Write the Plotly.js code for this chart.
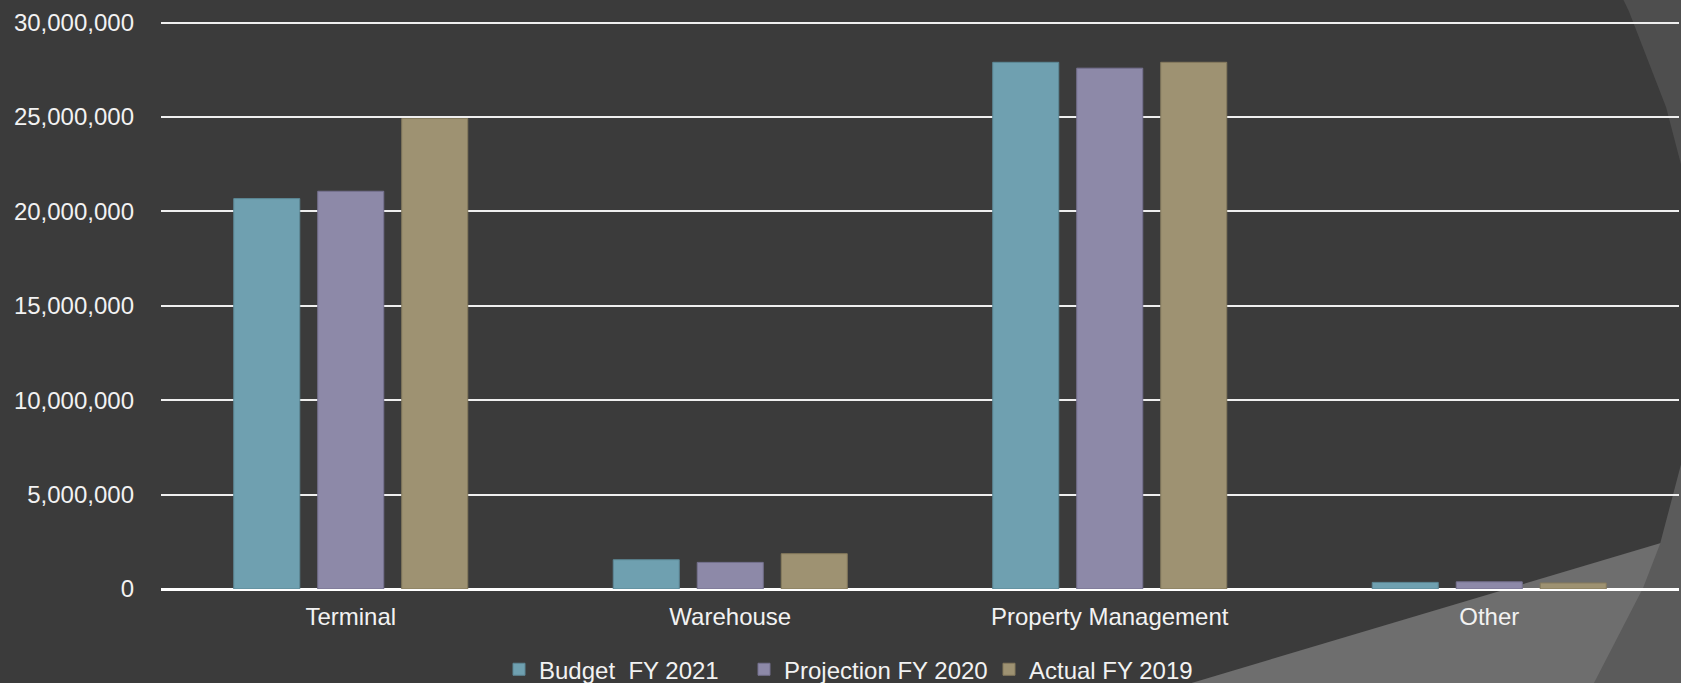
<!DOCTYPE html>
<html>
<head>
<meta charset="utf-8">
<script src="https://cdn.plot.ly/plotly-3.0.1.min.js"></script>
<style>
  html, body { margin: 0; padding: 0; background: #3b3b3b; }
  #chart { width: 1681px; height: 683px; }
</style>
</head>
<body>
<div id="chart"></div>
<script>
// ---- data ----
const categories = ['Terminal', 'Warehouse', 'Property Management', 'Other'];
const budgetFY2021 = [20680000, 1550000, 27900000, 350000];
const projectionFY2020 = [21070000, 1410000, 27590000, 380000];
const actualFY2019 = [24920000, 1870000, 27900000, 320000];
const seriesNames = ['Budget  FY 2021', 'Projection FY 2020', 'Actual FY 2019'];
const yTickVals = [0, 5000000, 10000000, 15000000, 20000000, 25000000, 30000000];

const colors = ['#6fa0b0', '#8d89a8', '#9e9272'];
const lineColors = ['#5c8795', '#75718f', '#857a5d'];

const seriesData = [budgetFY2021, projectionFY2020, actualFY2019];
const traces = seriesData.map((vals, i) => ({
  type: 'bar',
  name: seriesNames[i],
  x: categories,
  y: vals,
  marker: { color: colors[i], line: { color: lineColors[i], width: 1 } },
  hoverinfo: 'x+y+name'
}));

const textColor = '#f2f2f2';
const layout = {
  width: 1681,
  height: 683,
  margin: { l: 161, r: 2, t: 17, b: 94, pad: 0, autoexpand: false },
  paper_bgcolor: '#3b3b3b',
  plot_bgcolor: 'rgba(0,0,0,0)',
  font: { family: 'Liberation Sans, Arial, sans-serif', size: 24, color: textColor },
  barmode: 'group',
  bargap: 0.336,
  bargroupgap: 0.214,
  showlegend: true,
  legend: {
    orientation: 'h',
    x: (499 - 161) / 1518,
    xanchor: 'left',
    y: -0.141,
    yanchor: 'middle',
    bgcolor: 'rgba(0,0,0,0)',
    font: { family: 'Liberation Sans, Arial, sans-serif', size: 24, color: textColor },
    itemwidth: 30,
    entrywidth: 200,
    entrywidthmode: 'pixels',
    traceorder: 'normal'
  },
  xaxis: {
    type: 'category',
    showgrid: false,
    showline: false,
    zeroline: false,
    ticks: '',
    ticklabelstandoff: 11,
    tickfont: { size: 24, color: textColor }
  },
  yaxis: {
    range: [0, 30300000],
    tickvals: yTickVals,
    tickformat: ',d',
    showgrid: true,
    gridcolor: '#efefef',
    gridwidth: 2,
    zeroline: true,
    zerolinecolor: '#ffffff',
    zerolinewidth: 3,
    showline: false,
    ticks: '',
    ticklabelstandoff: 26,
    tickfont: { size: 24, color: textColor }
  },
  shapes: [
    { type: 'path', xref: 'paper', yref: 'paper', layer: 'below', line: { width: 0 },
      fillcolor: '#4e4e4e',
      path: 'M 0.9570,1.0686 L 0.9596,1.0509 L 0.9670,1.0101 L 0.9915,0.8423 L 1.0013,0.7424 L 1.0072,0.6763 L 1.0072,1.0686 Z' },
    { type: 'path', xref: 'paper', yref: 'paper', layer: 'below', line: { width: 0 },
      fillcolor: '#6e6e6e',
      path: 'M 0.6364,-0.198 L 1.0138,0.1008 L 1.0138,-0.198 Z' },
    { type: 'path', xref: 'paper', yref: 'paper', layer: 'below', line: { width: 0 },
      fillcolor: '#5b5b5b',
      path: 'M 0.9374,-0.1981 L 0.9433,-0.1678 L 0.9763,0.0018 L 0.9875,0.0785 L 1.0013,0.2177 L 1.0072,0.2837 L 1.0072,-0.1981 Z' }
  ]
};

Plotly.newPlot('chart', traces, layout, { displayModeBar: false, staticPlot: true });
</script>
</body>
</html>
